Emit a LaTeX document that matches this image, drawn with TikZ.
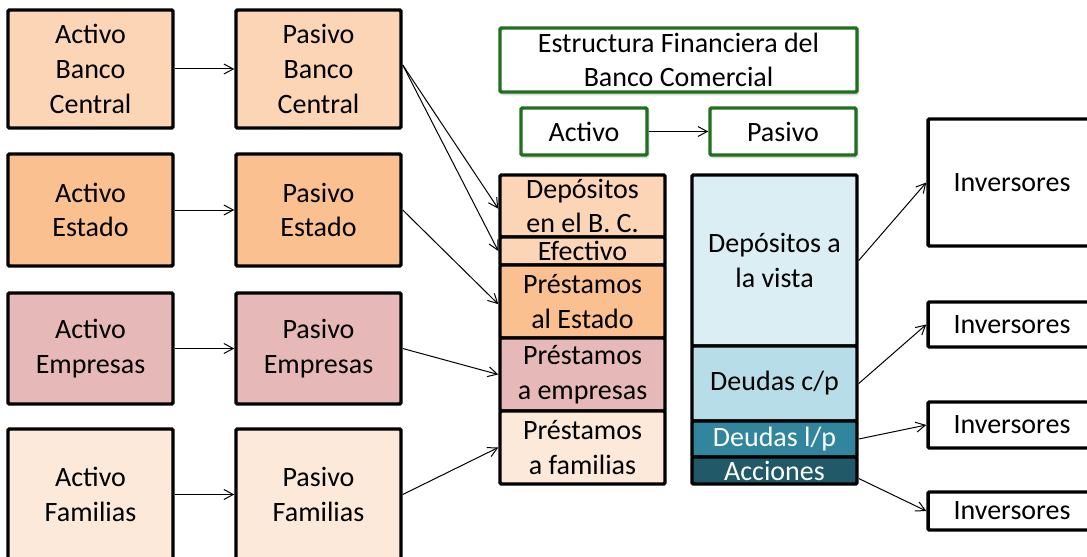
\documentclass[tikz,border=0pt]{standalone}
\usepackage{fontspec}
\setmainfont{Carlito}
\usetikzlibrary{arrows.meta,shadows.blur}

\def\pxu{0.75pt}
\definecolor{bcfill}{RGB}{251,213,181}
\definecolor{estfill}{RGB}{250,192,144}
\definecolor{empfill}{RGB}{230,185,184}
\definecolor{famfill}{RGB}{253,233,217}
\definecolor{vistafill}{RGB}{219,238,244}
\definecolor{cpfill}{RGB}{183,222,232}
\definecolor{lpfill}{RGB}{49,133,156}
\definecolor{accfill}{RGB}{33,89,104}
\definecolor{titgreen}{RGB}{30,112,30}

\tikzset{every picture/.style={line width=0.75pt}}
\tikzset{
  caja/.style={draw=black, line width=2.6pt, rounded corners=1pt, align=center,
    inner sep=0pt, font=\fontsize{21}{26}\selectfont},
  tam/.style 2 args={minimum width=#1*\pxu, minimum height=#2*\pxu},
  verde/.style={caja, draw=titgreen, fill=white,
    blur shadow={shadow xshift=1pt, shadow yshift=-1.5pt, shadow blur steps=6, shadow opacity=25}},
  flecha/.style={-{Straight Barb[length=7pt,width=7.5pt]}, line width=0.75pt},
}

\begin{document}
\begin{tikzpicture}[x=0.75pt,y=0.75pt,yscale=-1,xscale=1]
\useasboundingbox (0,0) rectangle (1087,556);

%Shape: sectores, activo
\node (abc) at (90.5,69) [caja, tam={165}{118}, fill=bcfill] {Activo\\Banco\\Central};
\node (aes) at (90.5,210) [caja, tam={165}{112}, fill=estfill] {Activo\\Estado};
\node (aem) at (90.5,348.5) [caja, tam={165}{111}, fill=empfill] {Activo\\Empresas};
\node (afa) at (90.5,494.5) [caja, tam={165}{131}, fill=famfill] {Activo\\Familias};
%Shape: sectores, pasivo
\node (pbc) at (318.5,69) [caja, tam={165}{118}, fill=bcfill] {Pasivo\\Banco\\Central};
\node (pes) at (318.5,210) [caja, tam={165}{112}, fill=estfill] {Pasivo\\Estado};
\node (pem) at (318.5,348.5) [caja, tam={165}{111}, fill=empfill] {Pasivo\\Empresas};
\node (pfa) at (318.5,494.5) [caja, tam={165}{131}, fill=famfill] {Pasivo\\Familias};

%Shape: titulo
\node (tit) at (678.5,60) [verde, tam={357}{64}] {Estructura Financiera del\\Banco Comercial};
\node (act) at (584,131.5) [verde, tam={126}{47}] {Activo};
\node (pas) at (783,131.5) [verde, tam={146}{47}] {Pasivo};

%Shape: activo del banco
\node (dep) at (582.5,206) [caja, tam={165}{62}, fill=bcfill] {Depósitos\\en el B. C.};
\node (efe) at (582.5,251) [caja, tam={165}{28}, fill=bcfill] {Efectivo};
\node (pre) at (582.5,301.5) [caja, tam={165}{73}, fill=estfill] {Préstamos\\al Estado};
\node (prm) at (582.5,374.5) [caja, tam={165}{73}, fill=empfill] {Préstamos\\a empresas};
\node (prf) at (582.5,447.5) [caja, tam={165}{73}, fill=famfill] {Préstamos\\a familias};

%Shape: pasivo del banco
\node (dvi) at (774.5,260.5) [caja, tam={165}{171}, fill=vistafill] {Depósitos a\\la vista};
\node (dcp) at (774.5,383.5) [caja, tam={165}{75}, fill=cpfill] {Deudas c/p};
\node (dlp) at (774.5,439) [caja, tam={165}{36}, fill=lpfill, text=white] {Deudas l/p};
\node (acc) at (774.5,470.5) [caja, tam={165}{27}, fill=accfill, text=white] {Acciones};

%Shape: inversores
\node (inv1) at (1012,182.5) [caja, tam={168}{127}, fill=white] {Inversores};
\node (inv2) at (1012,324.5) [caja, tam={168}{45}, fill=white] {Inversores};
\node (inv3) at (1012,425) [caja, tam={168}{46}, fill=white] {Inversores};
\node (inv4) at (1012,511) [caja, tam={168}{38}, fill=white] {Inversores};

%Straight Lines
\draw [flecha] (abc) -- (pbc);
\draw [flecha] (aes) -- (pes);
\draw [flecha] (aem) -- (pem);
\draw [flecha] (afa) -- (pfa);
\draw [flecha] (act) -- (pas);

\draw [flecha] ([yshift=-3pt]pbc.east) -- ([yshift=2pt]dep.west);
\draw [flecha] ([yshift=-3pt]pbc.east) -- (efe.west);
\draw [flecha] (pes.east) -- ([yshift=2pt]pre.west);
\draw [flecha] (pem.east) -- (prm.west);
\draw [flecha] (pfa.east) -- (prf.west);

\draw [flecha] (dvi.east) -- (inv1.west);
\draw [flecha] (dcp.east) -- (inv2.west);
\draw [flecha] (dlp.east) -- (inv3.west);
\draw [flecha] ([yshift=6pt]acc.east) -- (inv4.west);

\end{tikzpicture}
\end{document}
